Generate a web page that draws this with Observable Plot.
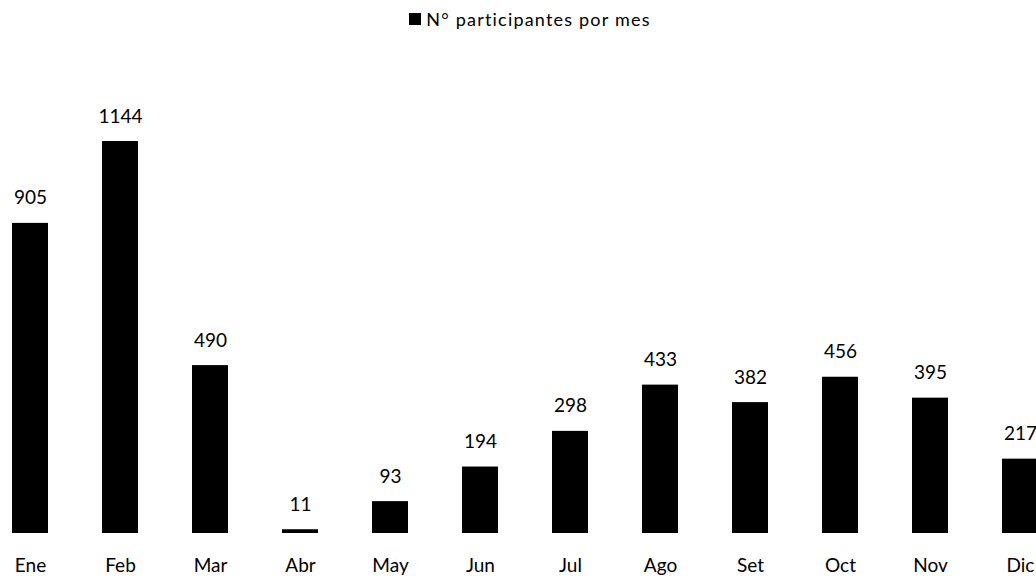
<!DOCTYPE html>
<html>
<head>
<meta charset="utf-8">
<script src="https://cdn.jsdelivr.net/npm/d3@7"></script>
<script src="https://cdn.jsdelivr.net/npm/@observablehq/plot@0.6"></script>
<style>
  html, body { margin: 0; padding: 0; background: #fff; }
  body { width: 1036px; height: 582px; overflow: hidden; font-family: Lato, "Open Sans", sans-serif; }
  #legend { height: 38px; display: flex; align-items: center; justify-content: center; font-size: 18px; letter-spacing: 1.2px; color: #000; padding-left: 24px; box-sizing: border-box; }
  #legend .sw { display: inline-block; width: 12px; height: 12px; background: #000; margin-right: 5px; }
</style>
</head>
<body>
<div id="legend"><span class="sw"></span><span>N° participantes por mes</span></div>
<div id="chart"></div>
<script>
const months = ["Ene", "Feb", "Mar", "Abr", "May", "Jun", "Jul", "Ago", "Set", "Oct", "Nov", "Dic"];
const participants = [905, 1144, 490, 11, 93, 194, 298, 433, 382, 456, 395, 217];

const data = months.map((m, i) => ({month: m, value: participants[i]}));

const chart = Plot.plot({
  width: 1036,
  height: 544,
  marginLeft: 12,
  marginRight: -2,
  marginTop: 103,
  marginBottom: 49,
  style: {fontFamily: "Lato, 'Open Sans', sans-serif", fontSize: "19px", color: "#000", background: "#fff"},
  x: {domain: months, paddingInner: 0.6, paddingOuter: 0, label: null},
  y: {domain: [0, d3.max(participants)], axis: null},
  marks: [
    Plot.barY(data, {x: "month", y: "value", fill: "#000"}),
    Plot.text(data, {x: "month", y: "value", text: d => String(d.value), dy: -25, fill: "#000", fontSize: 19}),
    Plot.axisX({tickSize: 0, tickPadding: 25, fontSize: 19, label: null})
  ]
});
document.getElementById("chart").appendChild(chart);
</script>
</body>
</html>
